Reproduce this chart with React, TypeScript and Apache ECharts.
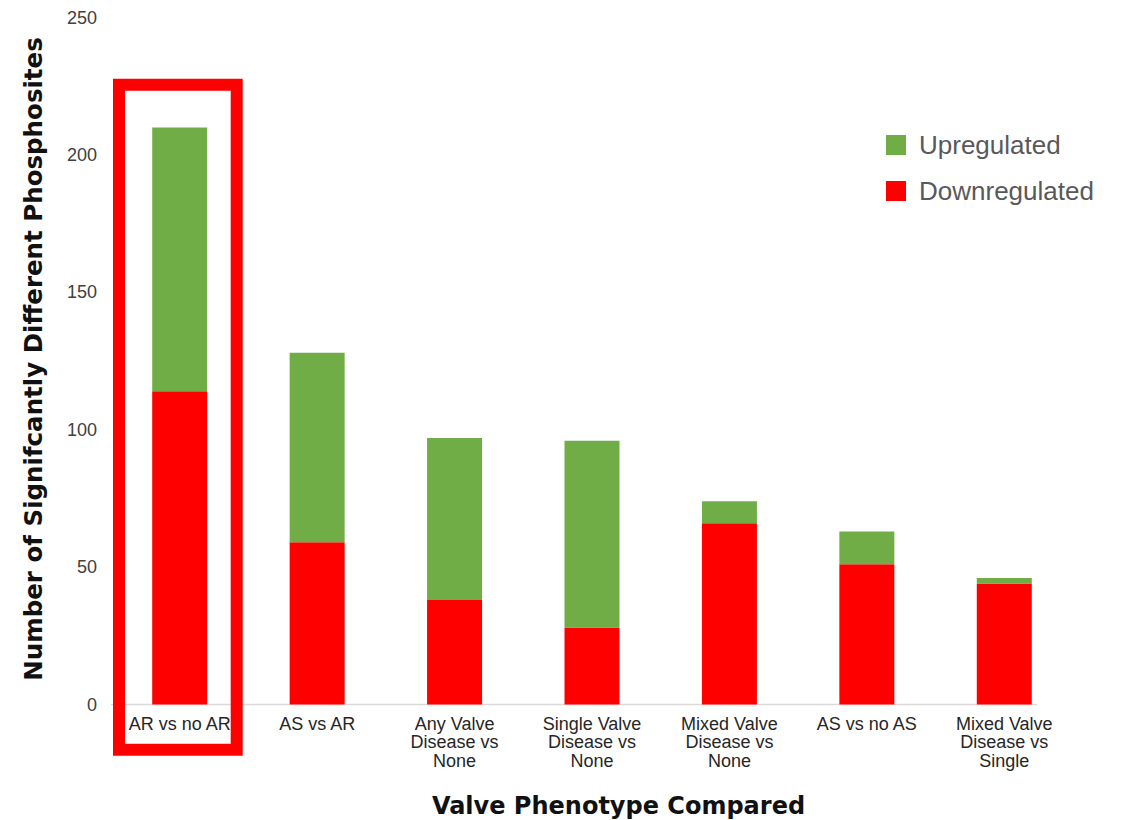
import React, { useEffect, useRef } from "react";
import * as echarts from "echarts";

// Comparisons between valve phenotypes
const categories = [
  "AR vs no AR",
  "AS vs AR",
  "Any Valve\nDisease vs\nNone",
  "Single Valve\nDisease vs\nNone",
  "Mixed Valve\nDisease vs\nNone",
  "AS vs no AS",
  "Mixed Valve\nDisease vs\nSingle",
];

// Counts of significantly different phosphosites per comparison
const downregulated = [114, 59, 38, 28, 66, 51, 44];
const upregulated = [96, 69, 59, 68, 8, 12, 2];

const yTicks = { min: 0, max: 250, interval: 50 };

const GREEN = "#70AD47";
const RED = "#FF0000";

export default function App() {
  const ref = useRef<HTMLDivElement>(null);

  useEffect(() => {
    document.body.style.margin = "0";
    if (!ref.current) return;
    const chart = echarts.init(ref.current, null, { renderer: "svg" });
    chart.setOption({
      animation: false,
      backgroundColor: "#ffffff",
      grid: { left: 111, right: 51, top: 17.5, bottom: 115.5, containLabel: false },
      legend: {
        orient: "vertical",
        left: 881,
        top: 127,
        itemWidth: 20,
        itemHeight: 20,
        itemGap: 20,
        icon: "rect",
        data: ["Upregulated", "Downregulated"],
        textStyle: {
          fontFamily: "Liberation Sans",
          fontSize: 26,
          lineHeight: 20,
          color: "#595959",
          padding: [0, 0, 0, 8],
        },
      },
      xAxis: {
        type: "category",
        data: categories,
        axisLine: { show: false },
        axisTick: { show: false },
        axisLabel: {
          interval: 0,
          margin: 10,
          fontFamily: "Liberation Sans",
          fontSize: 18,
          lineHeight: 18.5,
          color: "#262626",
        },
      },
      yAxis: {
        type: "value",
        min: yTicks.min,
        max: yTicks.max,
        interval: yTicks.interval,
        axisLine: { show: false },
        axisTick: { show: false },
        splitLine: { show: false },
        axisLabel: {
          margin: 14,
          fontFamily: "Liberation Sans",
          fontSize: 18,
          color: "#404040",
        },
      },
      series: [
        {
          name: "Downregulated",
          type: "bar",
          stack: "total",
          data: downregulated,
          barWidth: 55,
          itemStyle: { color: RED },
        },
        {
          name: "Upregulated",
          type: "bar",
          stack: "total",
          data: upregulated,
          barWidth: 55,
          itemStyle: { color: GREEN },
        },
      ],
      graphic: [
        {
          type: "line",
          shape: { x1: 111, y1: 704.5, x2: 1037, y2: 704.5 },
          style: { stroke: "#d9d9d9", lineWidth: 1.5 },
          z: 1,
        },
        {
          type: "text",
          x: 618.5,
          y: 805.5,
          style: {
            text: "Valve Phenotype Compared",
            fontFamily: "DejaVu Sans",
            fontWeight: "bold",
            fontSize: 24,
            fill: "#111111",
            align: "center",
            verticalAlign: "middle",
          },
        },
        {
          type: "text",
          x: 33,
          y: 359,
          rotation: Math.PI / 2,
          style: {
            text: "Number of Signifcantly Different Phosphosites",
            fontFamily: "DejaVu Sans",
            fontWeight: "bold",
            fontSize: 24.5,
            fill: "#111111",
            align: "center",
            verticalAlign: "middle",
          },
        },
        {
          type: "rect",
          shape: { x: 119, y: 84.7, width: 117.7, height: 665 },
          style: { fill: "none", stroke: RED, lineWidth: 12 },
          z: 10,
        },
      ],
    });
    return () => chart.dispose();
  }, []);

  return <div ref={ref} style={{ width: 1124, height: 820 }} />;
}
